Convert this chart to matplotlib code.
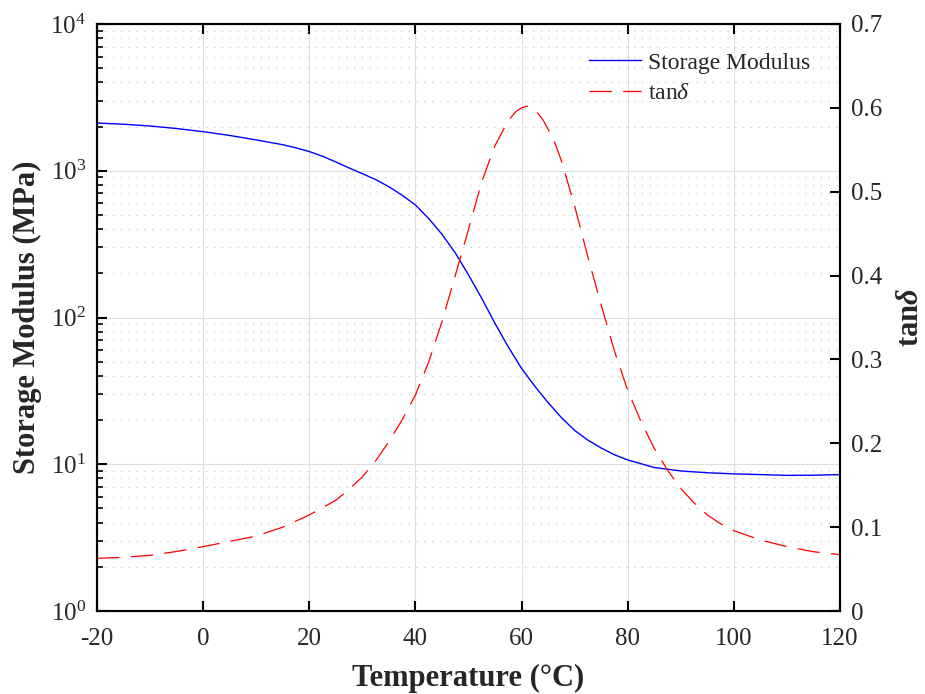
import matplotlib
matplotlib.use("Agg")
import matplotlib.pyplot as plt
from matplotlib.ticker import LogFormatterMathtext, FixedLocator, LogLocator, FuncFormatter, NullFormatter

plt.rcParams['font.family'] = ['Liberation Serif', 'DejaVu Serif']
plt.rcParams['mathtext.fontset'] = 'custom'
plt.rcParams['mathtext.rm'] = 'Liberation Serif'
plt.rcParams['mathtext.it'] = 'Liberation Serif:italic'
plt.rcParams['mathtext.bf'] = 'Liberation Serif:bold'
plt.rcParams['mathtext.bfit'] = 'Liberation Serif:italic:bold'

# ---- data ----
temp_E = [-20, -15, -10, -5, 0, 5, 10, 15, 17.5, 20, 22.5, 25, 27.5, 30, 32.5, 35, 37.5,
          40, 42.5, 45, 47.5, 50, 52.5, 55, 57.5, 60, 62.5, 65, 67.5, 70, 72.5, 75,
          77.5, 80, 85, 90, 95, 100, 105, 110, 115, 120]
storage_modulus = [2115, 2075, 2018, 1940, 1846, 1740, 1622, 1505, 1432, 1352, 1255,
                   1148, 1045, 955, 871, 778, 681, 585, 473, 369, 276, 195, 135, 91,
                   63, 45, 34.0, 26.3, 20.8, 17, 14.6, 12.9, 11.6, 10.7, 9.5, 9.0,
                   8.75, 8.6, 8.5, 8.4, 8.42, 8.5]

temp_tan = [-20, -15, -10, -5, 0, 5, 10, 15, 20, 25, 27.5, 30, 32.5, 35, 37.5, 40, 42.5,
            45, 47.5, 50, 52.5, 55, 57.5, 59, 60, 61, 62, 63, 64, 66, 67.5, 70, 72.5,
            75, 77.5, 80, 82.5, 85, 87.5, 90, 92.5, 95, 97.5, 100, 105, 110, 115, 120]
tan_delta = [0.0628, 0.064, 0.0664, 0.071, 0.0767, 0.083, 0.0894, 0.100, 0.1145, 0.132,
             0.145, 0.160, 0.179, 0.202, 0.228, 0.2576, 0.297, 0.345, 0.400, 0.455,
             0.512, 0.555, 0.585, 0.596, 0.600, 0.602, 0.600, 0.594, 0.586, 0.563,
             0.537, 0.483, 0.422, 0.365, 0.310, 0.263, 0.226, 0.194, 0.168, 0.146,
             0.129, 0.1145, 0.104, 0.0958, 0.0847, 0.0767, 0.0707, 0.0671]

x_ticks = [-20, 0, 20, 40, 60, 80, 100, 120]
right_ticks = [0, 0.1, 0.2, 0.3, 0.4, 0.5, 0.6, 0.7]

txt = '#262626'

fig = plt.figure(figsize=(9.25, 6.94), dpi=100)
ax = fig.add_axes([97/925, 1-611/694, (840-97)/925, (611-24)/694])
ax2 = ax.twinx()

l1, = ax.plot(temp_E, storage_modulus, color='#0000ff', lw=1.0, label='Storage Modulus')
l2, = ax2.plot(temp_tan, tan_delta, color='#ff0000', lw=0.9,
               linestyle=(0, (18, 9)), label=r'tan$\delta$')

ax.set_yscale('log')
ax.set_ylim(1, 1e4)
ax.set_xlim(-20, 120)
ax2.set_ylim(0, 0.7)

ax.xaxis.set_major_locator(FixedLocator(x_ticks))
ax.xaxis.set_major_formatter(FuncFormatter(lambda v, p: f"{v:g}"))
ax.yaxis.set_major_locator(LogLocator(base=10, numticks=10))
ax.yaxis.set_minor_locator(LogLocator(base=10, subs=range(2, 10), numticks=10))
ax.yaxis.set_major_formatter(LogFormatterMathtext())
ax.yaxis.set_minor_formatter(NullFormatter())
ax2.yaxis.set_major_locator(FixedLocator(right_ticks))
ax2.yaxis.set_major_formatter(FuncFormatter(lambda v, p: f"{v:g}"))

# grids
ax.grid(True, which='major', axis='both', color='#dedede', lw=0.8, ls='-')
ax.grid(True, which='minor', axis='y', color='#c4c4c4', lw=0.8, ls=(0, (1, 6)))
ax.set_axisbelow(True)

for a in (ax, ax2):
    for s in a.spines.values():
        s.set_linewidth(1.5)
        s.set_color('black')

ax.tick_params(axis='x', which='major', direction='in', top=True, bottom=True,
               length=7, width=1.5, labelsize=18, labelcolor=txt, pad=12)
ax.tick_params(axis='y', which='major', direction='in', left=True, right=False,
               length=7, width=1.5, labelsize=18, labelcolor=txt, pad=8)
ax.tick_params(axis='y', which='minor', direction='in', left=True, right=False,
               length=4, width=1.2)
ax2.tick_params(axis='y', which='major', direction='in', right=True, left=False,
                length=7, width=1.5, labelsize=18, labelcolor=txt, pad=8)
ax2.tick_params(axis='x', which='both', top=False, bottom=False)

ax.set_xlabel('Temperature (°C)', fontsize=22, fontweight='bold', color=txt, labelpad=10)
ax.set_ylabel('Storage Modulus (MPa)', fontsize=22, fontweight='bold', color=txt, labelpad=6)
ax2.set_ylabel(r'tan$\mathbfit{\delta}$', fontsize=22, fontweight='bold', color=txt, labelpad=10)

leg = ax2.legend(handles=[l1, l2], loc='upper left',
                 bbox_to_anchor=(589/925, 1-52/694), bbox_transform=fig.transFigure,
                 frameon=False, fontsize=17, handlelength=2.2, handletextpad=0.3,
                 labelspacing=0.38, borderpad=0, borderaxespad=0)
for t in leg.get_texts():
    t.set_color(txt)

fig.savefig('out.png', dpi=100)
